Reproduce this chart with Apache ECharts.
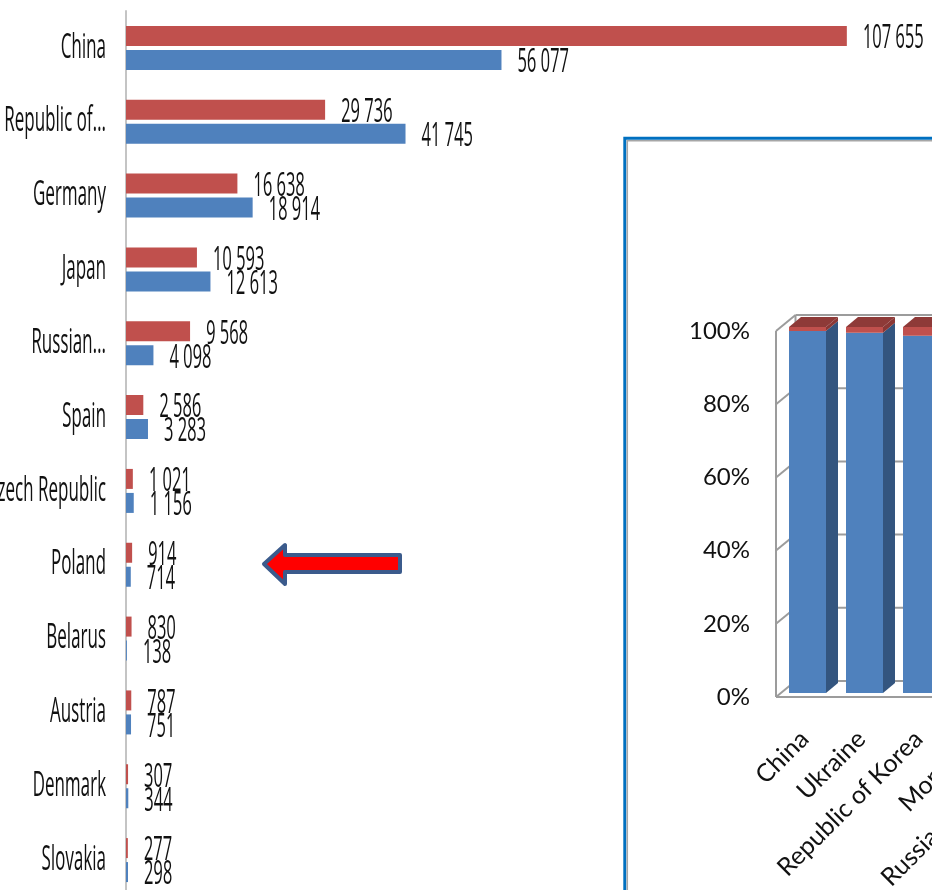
<!DOCTYPE html>
<html><head><meta charset="utf-8">
<script src="https://cdn.jsdelivr.net/npm/echarts@6/dist/echarts.min.js"></script>
<style>
html,body{margin:0;padding:0;width:932px;height:890px;overflow:hidden;background:#fff;}
#main{position:absolute;left:0;top:0;width:1864px;height:890px;transform:scaleX(0.5);transform-origin:0 0;}
#inset{position:absolute;left:0;top:0;width:932px;height:890px;}
</style></head><body>
<div id="main"></div><div id="inset"></div>
<script>
// ---- main horizontal bar chart data ----
const categories = ['China','Republic of...','Germany','Japan','Russian...','Spain','Czech Republic','Poland','Belarus','Austria','Denmark','Slovakia'];
const redValues  = [107655, 29736, 16638, 10593, 9568, 2586, 1021, 914, 830, 787, 307, 277];
const blueValues = [56077, 41745, 18914, 12613, 4098, 3283, 1156, 714, 138, 751, 344, 298];

// ---- inset 100% stacked column chart data ----
const insetCategories = ['China','Ukraine','Republic of Korea','Mongolia','Russian Federation'];
const insetBlueShare = [98.9, 98.4, 97.6, 96.0, 95.0];
const insetRedShare  = [1.1, 1.6, 2.4, 4.0, 5.0];
const insetTicks = [0, 20, 40, 60, 80, 100];

const fmt = v => String(v).replace(/\B(?=(\d{3})+(?!\d))/g, ' ');
const labelFont = 'Open Sans';

const main = echarts.init(document.getElementById('main'), null, {renderer:'canvas'});
const valueLabel = {
  show:true, position:'right', distance:32, offset:[0,3],
  formatter: p => fmt(p.value),
  fontFamily: labelFont, fontSize:33, color:'#111'
};
main.setOption({
  animation:false,
  backgroundColor:'#fff',
  grid:{left:252, top:11, width:1607, height:886, containLabel:false, outerBoundsMode:'none'},
  xAxis:{type:'value', min:0, max:120000, show:false},
  yAxis:{
    type:'category', inverse:true, data:categories,
    axisLine:{show:true, lineStyle:{color:'#8a8a8a', width:2}},
    axisTick:{show:false},
    axisLabel:{interval:0, margin:40, fontFamily:labelFont, fontSize:34, color:'#111'}
  },
  series:[
    {name:'Series 1', type:'bar', data:redValues, barWidth:20, barGap:'20%',
     itemStyle:{color:'#c0504d'}, label:valueLabel},
    {name:'Series 2', type:'bar', data:blueValues, barWidth:20, barGap:'20%',
     itemStyle:{color:'#4f81bd'}, label:valueLabel}
  ]
});

// ---- inset chart ----
const inset = echarts.init(document.getElementById('inset'), null, {renderer:'canvas'});
const WALL_DX = 19.5, WALL_DY = -16;
const COL_DX = 12, COL_DY = -10;
const insetFont = 'Lato';

inset.setOption({
  animation:false,
  backgroundColor:'transparent',
  grid:{left:776, top:331, width:57*insetCategories.length, height:366, containLabel:false, outerBoundsMode:'none'},
  xAxis:{
    type:'category', data:insetCategories,
    axisLine:{show:false}, axisTick:{show:false},
    axisLabel:{interval:0, rotate:45, margin:38, fontFamily:insetFont, fontSize:25, color:'#111'}
  },
  yAxis:{
    type:'value', min:0, max:100, interval:20,
    axisLine:{show:false}, axisTick:{show:false}, splitLine:{show:false},
    axisLabel:{formatter:'{value}%', margin:26, fontFamily:insetFont, fontSize:24, color:'#111'}
  },
  graphic:{elements:[
    {type:'rect', z:-10, shape:{x:624.8, y:138.3, width:400, height:900},
     style:{fill:'#fff', stroke:'#0070c0', lineWidth:3}},
    {type:'rect', z:-9, shape:{x:627.3, y:140.8, width:400, height:900},
     style:{fill:'none', stroke:'#a6a6a6', lineWidth:1.5}},
    {type:'polygon', z:100,
     shape:{points:[[264,564],[285,545],[285,555],[400,555],[400,572],[285,572],[285,584]]},
     style:{fill:'#ff0000', stroke:'#3b5b8c', lineWidth:4, lineJoin:'round'}}
  ]},
  series:[
    {
      type:'custom', z:1, silent:true,
      data:[[0,0]],
      encode:{x:0, y:1},
      renderItem:(params, api) => {
        const cs = params.coordSys;
        const x0 = cs.x, right = cs.x + cs.width + 200;
        const children = [];
        const st = {stroke:'#9c9c9c', lineWidth:2, fill:null};
        const y0 = api.coord([0,0])[1], y100 = api.coord([0,100])[1];
        children.push({type:'line', shape:{x1:x0, y1:y0, x2:x0, y2:y100}, style:st});
        children.push({type:'line', shape:{x1:x0+WALL_DX, y1:y0+WALL_DY, x2:x0+WALL_DX, y2:y100+WALL_DY}, style:st});
        children.push({type:'line', shape:{x1:x0, y1:y0, x2:right, y2:y0}, style:st});
        insetTicks.forEach(v => {
          const y = api.coord([0, v])[1];
          children.push({type:'line', shape:{x1:x0, y1:y, x2:x0+WALL_DX, y2:y+WALL_DY}, style:st});
          children.push({type:'line', shape:{x1:x0+WALL_DX, y1:y+WALL_DY, x2:right, y2:y+WALL_DY}, style:st});
        });
        return {type:'group', children};
      }
    },
    {
      type:'custom', z:2, silent:true,
      data: insetCategories.map((c,i) => [i, insetBlueShare[i], insetRedShare[i]]),
      encode:{x:0, y:1},
      renderItem:(params, api) => {
        const i = api.value(0), b = api.value(1), r = api.value(2);
        const base = api.coord([i, 0]);
        const cx = base[0];
        const fx0 = cx - 15.5, fx1 = cx + 21.5;
        const yBase = base[1] - 4;
        const yB = api.coord([i, b])[1] - 4;
        const yT = api.coord([i, b + r])[1] - 4;
        const poly = (pts, fill) => ({type:'polygon', shape:{points:pts}, style:{fill}});
        return {type:'group', children:[
          {type:'rect', shape:{x:fx0, y:yB, width:fx1-fx0, height:yBase-yB}, style:{fill:'#4f81bd'}},
          poly([[fx1,yBase],[fx1+COL_DX,yBase+COL_DY],[fx1+COL_DX,yB+COL_DY],[fx1,yB]], '#33557f'),
          {type:'rect', shape:{x:fx0, y:yT, width:fx1-fx0, height:yB-yT}, style:{fill:'#c0504d'}},
          poly([[fx1,yB],[fx1+COL_DX,yB+COL_DY],[fx1+COL_DX,yT+COL_DY],[fx1,yT]], '#8a3735'),
          poly([[fx0,yT],[fx0+COL_DX,yT+COL_DY],[fx1+COL_DX,yT+COL_DY],[fx1,yT]], '#8e3a38')
        ]};
      }
    }
  ]
});
</script>
</body></html>
